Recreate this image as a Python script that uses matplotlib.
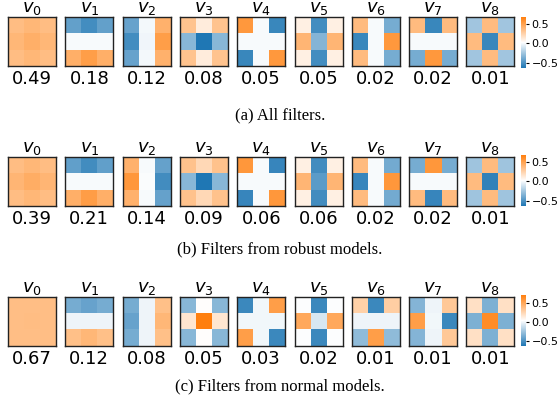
import matplotlib
matplotlib.use('Agg')
import matplotlib.pyplot as plt
import numpy as np
from matplotlib.colors import LinearSegmentedColormap, Normalize

# captions of the three rows
captions = ['(a) All filters.',
            '(b) Filters from robust models.',
            '(c) Filters from normal models.']

# explained variance ratio of each v_i
ratios_all = [0.49, 0.18, 0.12, 0.08, 0.05, 0.05, 0.02, 0.02, 0.01]
ratios_robust = [0.39, 0.21, 0.14, 0.09, 0.06, 0.06, 0.02, 0.02, 0.01]
ratios_normal = [0.67, 0.12, 0.08, 0.05, 0.03, 0.02, 0.01, 0.01, 0.01]

# 3x3 filters v0..v8
filters_all = [
    [[0.36, 0.39, 0.36], [0.39, 0.43, 0.39], [0.36, 0.39, 0.36]],
    [[-0.43, -0.52, -0.43], [0.0, 0.0, 0.0], [0.43, 0.52, 0.43]],
    [[-0.42, -0.01, 0.42], [-0.52, -0.02, 0.52], [-0.42, -0.01, 0.42]],
    [[0.33, 0.12, 0.33], [-0.32, -0.63, -0.32], [0.33, 0.12, 0.33]],
    [[0.55, 0.0, -0.55], [0.0, 0.0, 0.0], [-0.55, 0.0, 0.55]],
    [[0.1, -0.52, 0.1], [0.4, -0.33, 0.4], [0.1, -0.52, 0.1]],
    [[0.37, 0.0, -0.37], [-0.55, 0.0, 0.55], [0.37, 0.0, -0.37]],
    [[0.37, -0.55, 0.37], [0.0, 0.0, 0.0], [-0.37, 0.55, -0.37]],
    [[-0.25, 0.37, -0.25], [0.37, -0.55, 0.37], [-0.25, 0.37, -0.25]],
]
filters_robust = [
    [[0.36, 0.39, 0.36], [0.4, 0.44, 0.4], [0.36, 0.39, 0.36]],
    [[-0.43, -0.52, -0.43], [0.0, 0.0, 0.0], [0.43, 0.52, 0.43]],
    [[0.42, 0.0, -0.42], [0.55, 0.01, -0.52], [0.42, 0.0, -0.42]],
    [[0.33, 0.22, 0.33], [-0.32, -0.62, -0.32], [0.33, 0.22, 0.33]],
    [[0.55, 0.0, -0.55], [0.0, 0.0, 0.0], [-0.55, 0.0, 0.55]],
    [[0.1, -0.52, 0.1], [0.4, -0.45, 0.4], [0.1, -0.52, 0.1]],
    [[0.37, 0.0, -0.38], [-0.55, 0.0, 0.55], [0.37, 0.0, -0.38]],
    [[-0.37, 0.55, -0.37], [0.0, 0.0, 0.0], [0.37, -0.55, 0.37]],
    [[-0.25, 0.37, -0.25], [0.37, -0.57, 0.37], [-0.25, 0.37, -0.25]],
]
filters_normal = [
    [[0.38, 0.38, 0.38], [0.38, 0.39, 0.38], [0.38, 0.38, 0.38]],
    [[-0.37, -0.42, -0.37], [-0.01, -0.01, -0.01], [0.37, 0.42, 0.37]],
    [[-0.37, -0.01, 0.37], [-0.42, -0.01, 0.42], [-0.37, -0.01, 0.37]],
    [[-0.32, 0.05, -0.32], [0.17, 0.72, 0.17], [-0.32, 0.05, -0.32]],
    [[-0.55, 0.0, 0.55], [0.0, 0.0, 0.0], [0.55, 0.0, -0.55]],
    [[0.03, -0.55, 0.03], [0.5, -0.08, 0.5], [0.03, -0.55, 0.03]],
    [[0.28, -0.55, 0.3], [-0.01, -0.01, -0.01], [-0.3, 0.55, -0.3]],
    [[-0.33, -0.01, 0.33], [0.55, 0.0, -0.55], [-0.33, -0.01, 0.33]],
    [[0.2, -0.35, 0.2], [-0.35, 0.65, -0.35], [0.2, -0.35, 0.2]],
]

filas = [(filters_all, ratios_all), (filters_robust, ratios_robust), (filters_normal, ratios_normal)]
limites = [(-0.63, 0.68), (-0.625, 0.675), (-0.64, 0.72)]

cmap = LinearSegmentedColormap.from_list('bwo', ['#1f77b4', '#ffffff', '#ff7f0e'])

W, H = 558, 408
fig = plt.figure(figsize=(W / 100, H / 100), dpi=100)


def caja(x, y, w, h):
    # pixel box (top-left origin) -> figure fraction
    return [x / W, 1 - (y + h) / H, w / W, h / H]


tops = [17, 157, 297]
cap_y = [115, 249, 386]
cbar_tops = [17, 155, 295]

for r, (filtros, ratios) in enumerate(filas):
    norm = Normalize(vmin=limites[r][0], vmax=limites[r][1])
    for i, (f, v) in enumerate(zip(filtros, ratios)):
        x = 8 + i * 57.3
        ax = fig.add_axes(caja(x, tops[r], 48, 49))
        im = ax.imshow(np.array(f), cmap=cmap, norm=norm, aspect='auto')
        ax.set_xticks([])
        ax.set_yticks([])
        for s in ax.spines.values():
            s.set_linewidth(1.0)
            s.set_color('#222222')
        ax.set_title(f'$v_{i}$', fontsize=13, pad=2)
        ax.text(0.5, -0.09, f'{v:.2f}', transform=ax.transAxes,
                ha='center', va='top', fontsize=13)
    cax = fig.add_axes(caja(521, cbar_tops[r], 5, 51))
    cb = fig.colorbar(im, cax=cax, ticks=[-0.5, 0.0, 0.5])
    cb.outline.set_visible(False)
    cax.tick_params(labelsize=8, length=2.5, pad=1.5)
    fig.text(280 / W, 1 - cap_y[r] / H, captions[r], ha='center', va='center',
             fontsize=12, family='Liberation Serif')

fig.savefig('out.png', dpi=100)
